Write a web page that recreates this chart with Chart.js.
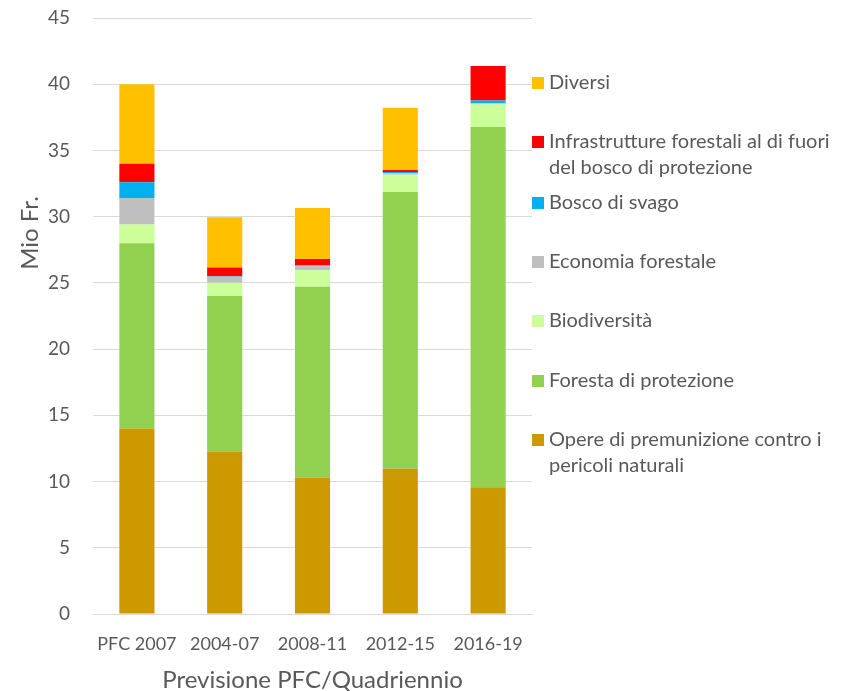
<!DOCTYPE html>
<html>
<head>
<meta charset="utf-8">
<script src="https://cdn.jsdelivr.net/npm/chart.js@4"></script>
<style>
    html, body { margin: 0; padding: 0; background: #ffffff; }
    #wrap { width: 845px; height: 691px; }
</style>
</head>
<body>
<div id="wrap"><canvas id="barChart"></canvas></div>
<script>
// Categories and values (Mio Fr.)
const periods = ['PFC 2007', '2004-07', '2008-11', '2012-15', '2016-19'];
const opere = [14.0, 12.26, 10.3, 10.97, 9.57];
const foresta = [14.0, 11.75, 14.4, 20.9, 27.2];
const biodiversita = [1.4, 1.0, 1.25, 1.3, 1.7];
const economia = [2.0, 0.45, 0.35, 0.1, 0.1];
const svago = [1.2, 0.05, 0.05, 0.1, 0.2];
const infrastrutture = [1.4, 0.65, 0.45, 0.15, 2.6];
const diversi = [6.0, 3.8, 3.85, 4.7, 0];

const seriesNames = [
    'Opere di premunizione contro i pericoli naturali',
    'Foresta di protezione',
    'Biodiversità',
    'Economia forestale',
    'Bosco di svago',
    'Infrastrutture forestali al di fuori del bosco di protezione',
    'Diversi'
];
// legend text split the way the reference wraps it
const legendLines = [
    ['Opere di premunizione contro i', 'pericoli naturali'],
    ['Foresta di protezione'],
    ['Biodiversità'],
    ['Economia forestale'],
    ['Bosco di svago'],
    ['Infrastrutture forestali al di fuori', 'del bosco di protezione'],
    ['Diversi']
];
const seriesColors = ['#CC9900', '#92D050', '#CCFF99', '#BFBFBF', '#00B0F0', '#FF0000', '#FFC000'];
const seriesValues = [opere, foresta, biodiversita, economia, svago, infrastrutture, diversi];

const yTicks = [0, 5, 10, 15, 20, 25, 30, 35, 40, 45];

const FONT = 'Lato, "Open Sans", sans-serif';
const TEXT = '#595959';

// Legend and axis titles drawn by hand (wrapped legend lines)
const customText = {
    id: 'customText',
    afterDraw(chart) {
        const ctx = chart.ctx;
        ctx.save();
        ctx.fillStyle = TEXT;
        ctx.font = '24px ' + FONT;
        ctx.textAlign = 'center';
        ctx.textBaseline = 'middle';
        ctx.fillText('Previsione PFC/Quadriennio', (chart.chartArea.left + chart.chartArea.right) / 2, 680);

        ctx.translate(30, 233);
        ctx.rotate(-Math.PI / 2);
        ctx.fillText('Mio Fr.', 0, 0);
        ctx.restore();

        // legend, top item = last series
        const itemY = [83, 142, 203, 262, 321, 381, 440];
        ctx.save();
        ctx.font = '20px ' + FONT;
        ctx.textAlign = 'left';
        ctx.textBaseline = 'middle';
        for (let i = 0; i < seriesNames.length; i++) {
            const s = seriesNames.length - 1 - i;
            const y = itemY[i];
            ctx.fillStyle = seriesColors[s];
            ctx.fillRect(532, y - 6, 12, 12);
            ctx.fillStyle = TEXT;
            legendLines[s].forEach((line, k) => {
                ctx.fillText(line, 549, y + k * 26);
            });
        }
        ctx.restore();
    }
};

const ctx = document.getElementById('barChart').getContext('2d');

new Chart(ctx, {
    type: 'bar',
    data: {
        labels: periods,
        datasets: seriesNames.map((name, i) => ({
            label: name,
            data: seriesValues[i],
            backgroundColor: seriesColors[i],
            borderWidth: 0,
            barPercentage: 0.4,
            categoryPercentage: 1.0
        }))
    },
    options: {
        responsive: true,
        maintainAspectRatio: false,
        animation: false,
        layout: {
            padding: { top: 18, right: 313, bottom: 0, left: 0 }
        },
        plugins: {
            legend: { display: false },
            tooltip: { enabled: false }
        },
        scales: {
            x: {
                stacked: true,
                grid: { display: false, drawTicks: false },
                border: { display: true, color: '#d9d9d9', width: 1 },
                ticks: {
                    color: TEXT,
                    font: { family: FONT, size: 18 },
                    padding: 19,
                    maxRotation: 0
                },
                afterFit(scale) {
                    scale.height = 77;
                    scale.paddingLeft = 0;
                    scale.paddingRight = 0;
                }
            },
            y: {
                stacked: true,
                min: 0,
                max: 45,
                afterBuildTicks(scale) { scale.ticks = yTicks.map(v => ({ value: v })); },
                grid: { color: '#d9d9d9', lineWidth: 1, drawTicks: false },
                border: { display: false },
                ticks: {
                    color: TEXT,
                    font: { family: FONT, size: 19 },
                    padding: 23
                },
                afterFit(scale) {
                    scale.width = 93;
                    scale.paddingTop = 0;
                    scale.paddingBottom = 0;
                }
            }
        }
    },
    plugins: [customText]
});
</script>
</body>
</html>
